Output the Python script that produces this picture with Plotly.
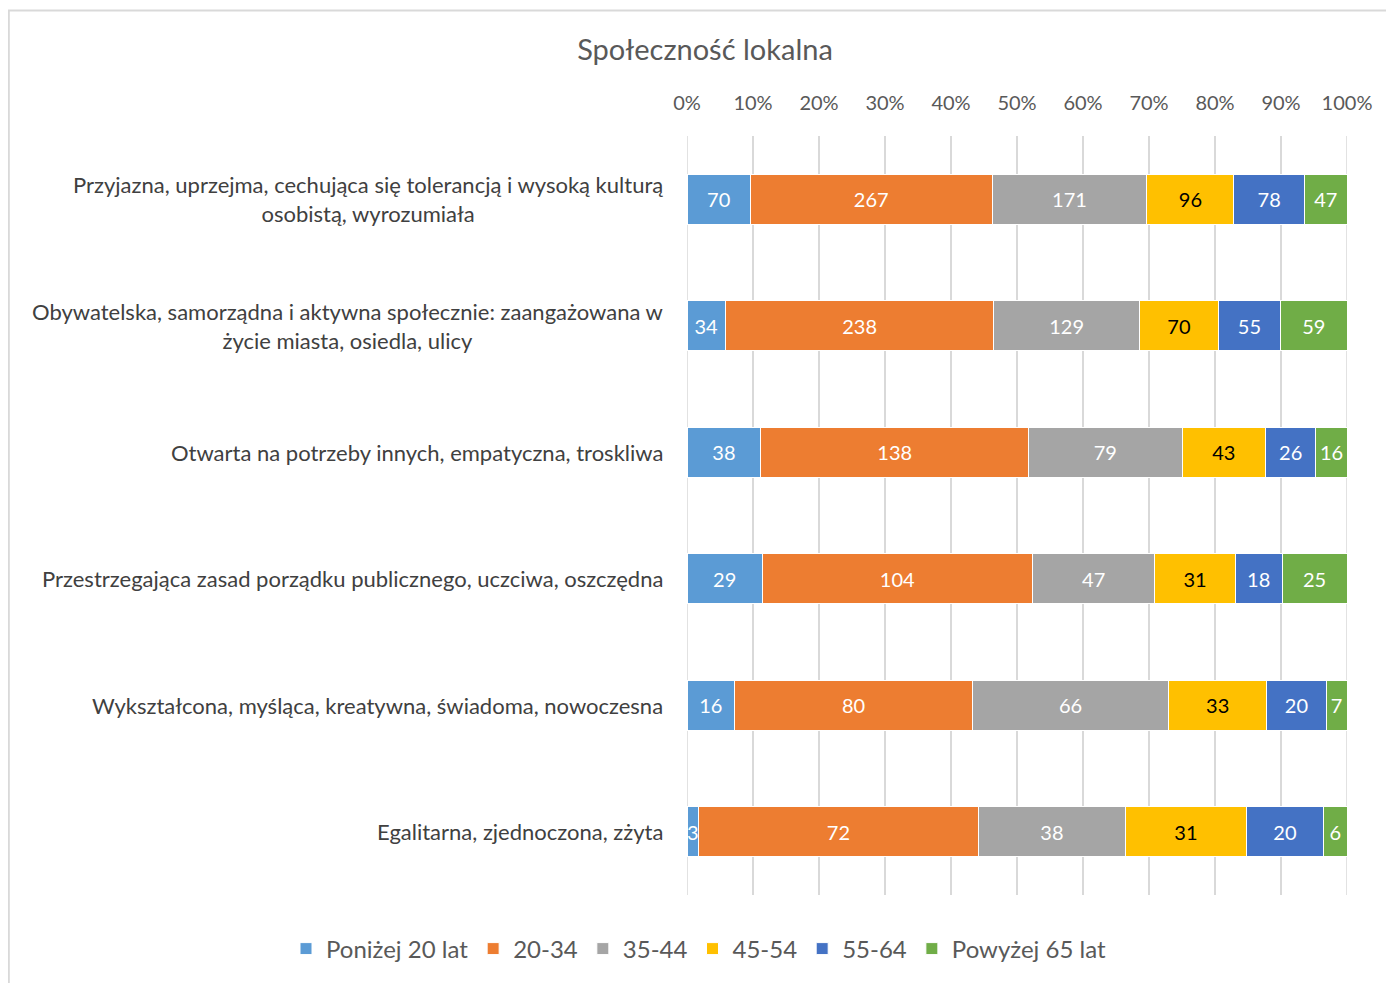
import plotly.graph_objects as go

categories = [
    "Przyjazna, uprzejma, cechująca się tolerancją i wysoką kulturą<br>osobistą, wyrozumiała",
    "Obywatelska, samorządna i aktywna społecznie: zaangażowana w<br>życie miasta, osiedla, ulicy",
    "Otwarta na potrzeby innych, empatyczna, troskliwa",
    "Przestrzegająca zasad porządku publicznego, uczciwa, oszczędna",
    "Wykształcona, myśląca, kreatywna, świadoma, nowoczesna",
    "Egalitarna, zjednoczona, zżyta",
]
series_names = ["Poniżej 20 lat", "20-34", "35-44", "45-54", "55-64", "Powyżej 65 lat"]
poniz_20 = [70, 34, 38, 29, 16, 3]
v20_34 = [267, 238, 138, 104, 80, 72]
v35_44 = [171, 129, 79, 47, 66, 38]
v45_54 = [96, 70, 43, 31, 33, 31]
v55_64 = [78, 55, 26, 18, 20, 20]
powyz_65 = [47, 59, 16, 25, 7, 6]
series_values = [poniz_20, v20_34, v35_44, v45_54, v55_64, powyz_65]
tick_vals = [0, 10, 20, 30, 40, 50, 60, 70, 80, 90, 100]
tick_text = ["0%", "10%", "20%", "30%", "40%", "50%", "60%", "70%", "80%", "90%", "100%"]

colors = ["#5B9BD5", "#ED7D31", "#A5A5A5", "#FFC000", "#4472C4", "#70AD47"]
text_colors = ["white", "white", "white", "black", "white", "white"]

FONT = "Lato"
ycats = list(range(len(categories)))

fig = go.Figure()
for name, vals, col, tcol in zip(series_names, series_values, colors, text_colors):
    fig.add_trace(go.Bar(
        name=name, y=ycats, x=vals, orientation="h",
        marker=dict(color=col, line=dict(color="white", width=1)),
        text=[str(v) for v in vals], textposition="inside",
        insidetextanchor="middle", textangle=0, constraintext="none",
        textfont=dict(family=FONT, size=20, color=tcol),
        hoverinfo="name+x",
    ))

annotations = []
for i, cat in enumerate(categories):
    annotations.append(dict(
        xref="paper", yref="y", x=0, y=i, xshift=-22, xanchor="right",
        yanchor="middle", align="center", showarrow=False, text=cat,
        font=dict(family=FONT, size=22, color="#404040"),
    ))

# page has an 8px body margin; figure coords = reference coords - 8
W, H = 1386, 975
L, R, T, B = 679, 47, 128, 88
pw, ph = W - L - R, H - T - B
def px_x(px):
    return (px - L) / pw
def px_y(py):
    return (H - B - py) / ph

shapes = [
    dict(type="line", xref="paper", yref="paper", x0=px_x(0), x1=px_x(W + 5),
         y0=px_y(2.5), y1=px_y(2.5), line=dict(color="#d9d9d9", width=2)),
    dict(type="line", xref="paper", yref="paper", x0=px_x(0.8), x1=px_x(0.8),
         y0=px_y(2), y1=px_y(H + 5), line=dict(color="#d9d9d9", width=2)),
    dict(type="line", xref="x", yref="paper", x0=0, x1=0, y0=0, y1=1,
         layer="below", line=dict(color="#d9d9d9", width=1.5)),
    dict(type="line", xref="x", yref="paper", x0=100, x1=100, y0=0, y1=1,
         layer="below", line=dict(color="#d9d9d9", width=1.5)),
]

fig.update_layout(
    width=W, height=H,
    margin=dict(l=L, r=R, t=T, b=B),
    barmode="stack", barnorm="percent", bargap=0.605,
    paper_bgcolor="white", plot_bgcolor="white",
    title=dict(text="Społeczność lokalna", x=697 / W, xref="container", xanchor="center",
               y=1 - 42 / H, yref="container", yanchor="middle",
               font=dict(family=FONT, size=29, color="#595959")),
    xaxis=dict(side="top", range=[0, 100], tickvals=tick_vals, ticktext=tick_text,
               showgrid=True, gridcolor="#d9d9d9", gridwidth=1.5, zeroline=False,
               showline=False, ticks="outside", ticklen=17, tickcolor="rgba(0,0,0,0)",
               tickfont=dict(family=FONT, size=20, color="#595959"), fixedrange=True),
    yaxis=dict(range=[len(categories) - 0.5, -0.5], showticklabels=False,
               showgrid=False, zeroline=False, showline=False, fixedrange=True),
    legend=dict(orientation="h", xref="paper", x=px_x(278), xanchor="left",
                yref="paper", y=px_y(941), yanchor="middle",
                font=dict(family=FONT, size=24, color="#595959"),
                traceorder="normal", itemwidth=30),
    uniformtext=dict(minsize=18, mode="show"),
    annotations=annotations, shapes=shapes,
    showlegend=True,
)

fig.write_html("out.html")
